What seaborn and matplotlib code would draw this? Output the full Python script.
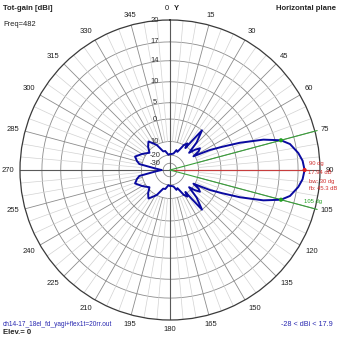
import numpy as np
import matplotlib
matplotlib.use("Agg")
import matplotlib.pyplot as plt
import matplotlib.transforms as mtransforms
import seaborn as sns

sns.set_style("white")
plt.rcParams["font.family"] = ["Liberation Sans", "DejaVu Sans"]

# Horizontal-plane pattern, symmetric about boresight (90 deg heading).
# off-boresight angle (deg) and total gain (dBi)
off_axis_deg = [0, 4, 7.5, 12.2, 15, 18, 21.3, 24, 26.6, 28, 30.3, 33, 36, 39, 42,
                46, 51.1, 53, 55, 57, 61, 65, 68, 72, 78, 85, 90, 96, 100, 104,
                110, 118, 127, 133, 140, 150, 159, 165, 169, 174, 180]
gain_dbi = [17.94, 17.7, 17.2, 16.2, 14.94, 12.0, 7.0, 2.0, -2.3, -6, -10.8, -7, -5.6, -8, -11.7,
            -5, 0.0, -6, -11, -8.2, -10, -14, -16, -15, -18.3, -19, -19, -19.7, -18, -16,
            -15.8, -10, -6.2, -8, -11, -8, -5.4, -7, -8.5, -20, -27.36]

boresight_deg = 90
peak_gain = 17.94
beamwidth_deg = 30
front_back_db = 45.3
freq_mhz = 482
elevation_deg = 0
ring_levels = [20, 17, 14, 10, 5, 0, -10, -20, -30]
angle_ticks = list(range(0, 360, 15))

# log-like radial scale of the plot
K = 0.0506
R_MIN = -45.7
R_MAX = 20


def fwd(g):
    return np.exp(K * np.asarray(g, dtype=float))


def inv(v):
    return np.log(np.clip(np.asarray(v, dtype=float), 1e-12, None)) / K


# full 360-degree pattern from the symmetric half
off = np.array(off_axis_deg)
g = np.array(gain_dbi)
heading = np.concatenate([boresight_deg - off[::-1], boresight_deg + off[1:]])
gain_full = np.concatenate([g[::-1], g[1:]])
theta = np.deg2rad(heading)

W = H = 339
fig = plt.figure(figsize=(W / 100, H / 100), dpi=100)
cx, cy, R = 170, 170, 150
ax = fig.add_axes([(cx - R) / W, 1 - (cy + R) / H, 2 * R / W, 2 * R / H], projection="polar")
ax.set_theta_zero_location("N")
ax.set_theta_direction(-1)
ax.set_rscale("function", functions=(fwd, inv))
ax.set_rlim(R_MIN, R_MAX)
ax.grid(False)
ax.set_xticks([])
ax.set_yticks([])
ax.spines["polar"].set_color("#3a3a3a")
ax.spines["polar"].set_linewidth(0.9)
ax.set_facecolor("white")

# grid: rings and spokes
tt = np.linspace(0, 2 * np.pi, 721)
for lv in ring_levels[1:]:
    ax.plot(tt, np.full_like(tt, lv), color="#8c8c8c", lw=0.6, zorder=1)
for a in range(0, 360, 5):
    if a % 90 == 0:
        continue
    col, lw = ("#8c8c8c", 0.6) if a % 15 == 0 else ("#d2d2d2", 0.5)
    ax.plot([np.deg2rad(a)] * 2, [-10, R_MAX], color=col, lw=lw, zorder=1)
for a in (0, 90, 180, 270):
    ax.plot([np.deg2rad(a)] * 2, [R_MIN, R_MAX], color="#5a5a5a", lw=0.8, zorder=1)

# radial level labels along the 0 deg axis
lab_tr = mtransforms.offset_copy(ax.transData, fig=fig, x=-15, y=0, units="dots")
for lv in ring_levels:
    ax.text(0, lv, str(abs(lv)) if lv == -10 else str(lv), transform=lab_tr,
            ha="center", va="center", fontsize=5.5, color="#303030", zorder=3)

# heading labels around the rim
for a in angle_ticks:
    if a == 0:
        continue
    s, c = np.sin(np.deg2rad(a)), np.cos(np.deg2rad(a))
    tr = mtransforms.offset_copy(ax.transData, fig=fig, x=6 * s, y=6 * c, units="dots")
    ha = "left" if s > 0.3 else ("right" if s < -0.3 else "center")
    va = "bottom" if c > 0.3 else ("top" if c < -0.3 else "center")
    ax.text(np.deg2rad(a), R_MAX, str(a), transform=tr, ha=ha, va=va,
            fontsize=5.5, color="#202020", zorder=3)
fig.text(167 / W, 1 - 8 / H, "0", ha="center", va="center", fontsize=5.5, color="#202020")
fig.text(176 / W, 1 - 9 / H, "Y", ha="center", va="center", fontsize=5.5,
         fontweight="bold", color="#202020")

# pattern
sns.lineplot(x=theta, y=gain_full, sort=False, ax=ax, color="#0a0aa0", lw=1.4, zorder=5)

# boresight and -3 dB markers
t_b = np.deg2rad(boresight_deg)
t_lo = np.deg2rad(boresight_deg - beamwidth_deg / 2)
t_hi = np.deg2rad(boresight_deg + beamwidth_deg / 2)
ax.plot([t_b, t_b], [R_MIN, 18.6], color="#c83c3c", lw=0.8, zorder=4, clip_on=False)
for t in (t_lo, t_hi):
    ax.plot([t, t], [R_MIN, 20.3], color="#3aa03a", lw=0.8, zorder=4, clip_on=False)
sns.scatterplot(x=[t_lo, t_hi], y=[peak_gain - 3, peak_gain - 3], ax=ax, color="#20a020",
                s=9, edgecolor="none", zorder=6)
sns.scatterplot(x=[t_b], y=[peak_gain], ax=ax, color="#e02020", s=9, edgecolor="none", zorder=6)

red = "#d03030"
fig.text(309 / W, 1 - 163 / H, f"{boresight_deg} dg", fontsize=4.2, color=red, va="center")
fig.text(308 / W, 1 - 172 / H, f"{peak_gain:.2f} dB", fontsize=4.2, color=red, va="center")
fig.text(309 / W, 1 - 181 / H, f"bw: {beamwidth_deg} dg", fontsize=4.2, color=red, va="center")
fig.text(309 / W, 1 - 189 / H, f"fb: {front_back_db} dB", fontsize=4.2, color=red, va="center")
fig.text(304 / W, 1 - 201 / H, f"{boresight_deg + beamwidth_deg // 2} dg", fontsize=4.2,
         color="#20a020", va="center")

# header and footer texts
fig.text(3 / W, 1 - 8 / H, "Tot-gain [dBi]", fontsize=5.6, fontweight="bold", va="center")
fig.text(3 / W, 1 - 25 / H, f"Freq={freq_mhz}", fontsize=5.4, va="center", color="#202020")
fig.text(336 / W, 1 - 8 / H, "Horizontal plane", fontsize=5.6, fontweight="bold",
         va="center", ha="right")
fig.text(3 / W, 1 - 324 / H, "ch14-17_18el_fd_yagi+flex1t=20rr.out", fontsize=4.7,
         va="center", color="#2828b0")
fig.text(3 / W, 1 - 333 / H, f"Elev.= {elevation_deg}", fontsize=5.6, fontweight="bold",
         va="center")
fig.text(333 / W, 1 - 325 / H, f"-28 < dBi < {peak_gain:.1f}", fontsize=5.2, va="center",
         ha="right", color="#2828b0")

fig.savefig("out.png", dpi=100, facecolor="white")
